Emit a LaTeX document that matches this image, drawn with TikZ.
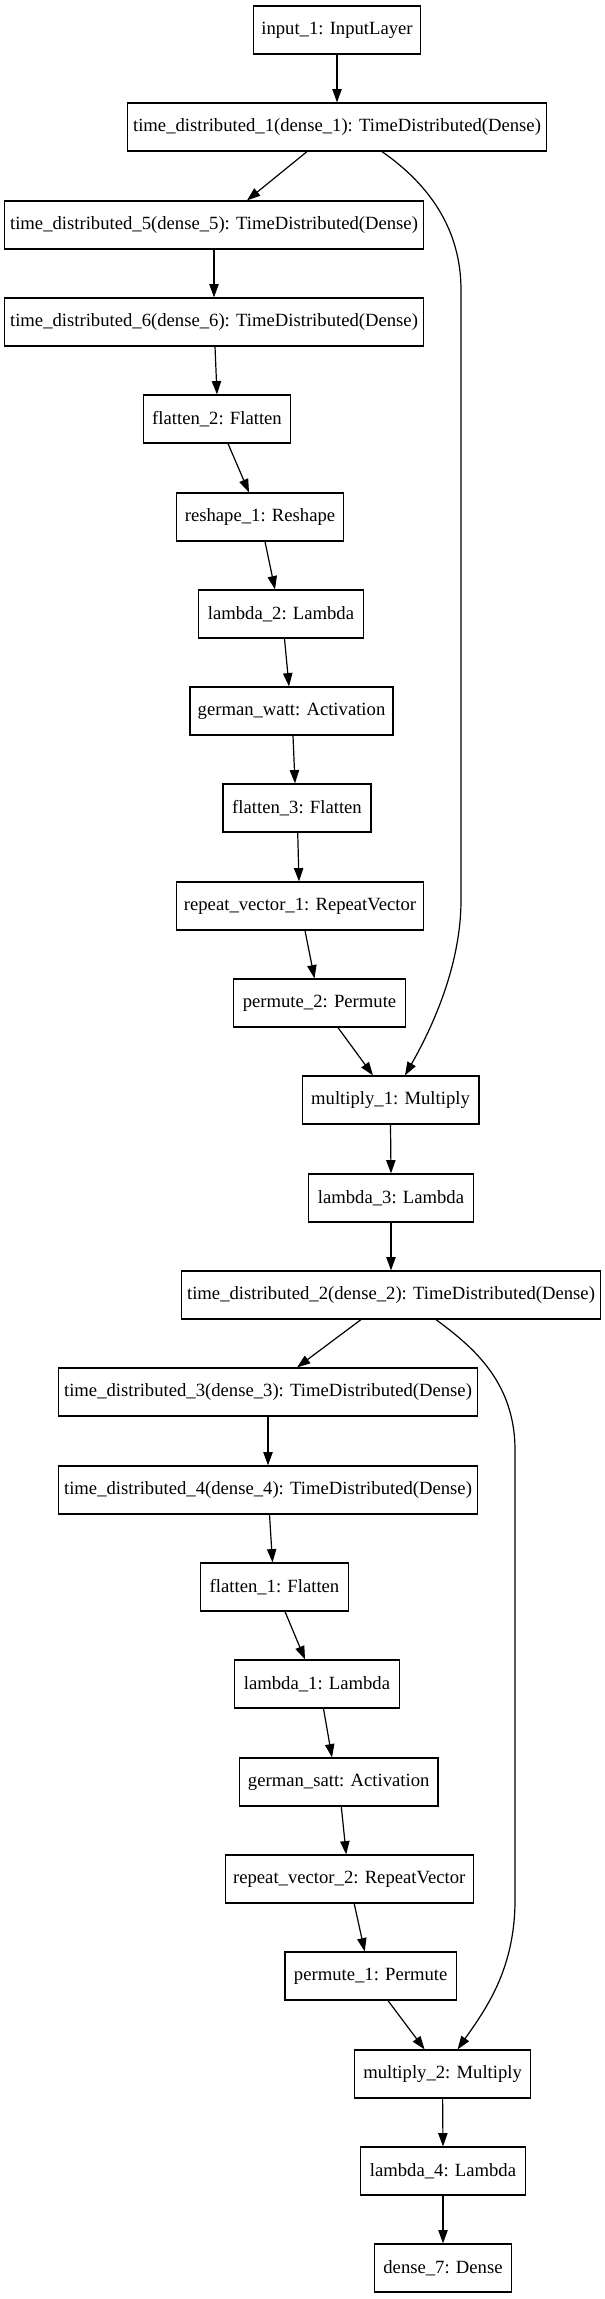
\documentclass[tikz,border=0pt]{standalone}
\usepackage{fontspec}
\setmainfont{Liberation Serif}
\usetikzlibrary{arrows.meta,calc}
\tikzset{
  layer/.style={draw=black, line width=0.9pt, rectangle, minimum height=36pt, inner sep=0pt, font=\fontsize{14}{16}\selectfont},
  edge/.style={draw=black, line width=0.9pt, -{Triangle[length=10pt,width=7pt]}}
}
\begin{document}
\begin{tikzpicture}[x=0.75pt,y=-0.75pt]
\useasboundingbox[fill=white] (0,0) rectangle (604,2299);
\node[layer, minimum width=125.3pt] (in1) at (337,30) {input\_1: InputLayer};
\node[layer, minimum width=313.9pt] (td1) at (337,127) {time\_distributed\_1(dense\_1): TimeDistributed(Dense)};
\node[layer, minimum width=314.3pt] (td5) at (214,225) {time\_distributed\_5(dense\_5): TimeDistributed(Dense)};
\node[layer, minimum width=314.3pt] (td6) at (214,322) {time\_distributed\_6(dense\_6): TimeDistributed(Dense)};
\node[layer, minimum width=110pt] (fl2) at (217,419) {flatten\_2: Flatten};
\node[layer, minimum width=125.3pt] (rs1) at (260,517) {reshape\_1: Reshape};
\node[layer, minimum width=123.4pt] (lb2) at (281,614) {lambda\_2: Lambda};
\node[layer, minimum width=152.3pt] (gw) at (291.5,711) {german\_watt: Activation};
\node[layer, minimum width=111pt] (fl3) at (297,808) {flatten\_3: Flatten};
\node[layer, minimum width=185.6pt] (rv1) at (300,906) {repeat\_vector\_1: RepeatVector};
\node[layer, minimum width=128.6pt] (pm2) at (319.5,1003) {permute\_2: Permute};
\node[layer, minimum width=132.6pt] (mu1) at (390.5,1100) {multiply\_1: Multiply};
\node[layer, minimum width=123.8pt] (lb3) at (391,1198) {lambda\_3: Lambda};
\node[layer, minimum width=314.3pt] (td2) at (391,1295) {time\_distributed\_2(dense\_2): TimeDistributed(Dense)};
\node[layer, minimum width=313.9pt] (td3) at (268,1392) {time\_distributed\_3(dense\_3): TimeDistributed(Dense)};
\node[layer, minimum width=313.9pt] (td4) at (268,1490) {time\_distributed\_4(dense\_4): TimeDistributed(Dense)};
\node[layer, minimum width=110.6pt] (fl1) at (274.5,1587) {flatten\_1: Flatten};
\node[layer, minimum width=123.8pt] (lb1) at (317,1684) {lambda\_1: Lambda};
\node[layer, minimum width=148.9pt] (gs) at (338.7,1782) {german\_satt: Activation};
\node[layer, minimum width=185.9pt] (rv2) at (349.2,1879) {repeat\_vector\_2: RepeatVector};
\node[layer, minimum width=128.6pt] (pm1) at (370.7,1976) {permute\_1: Permute};
\node[layer, minimum width=132.4pt] (mu2) at (442.6,2074) {multiply\_2: Multiply};
\node[layer, minimum width=123.4pt] (lb4) at (443,2171) {lambda\_4: Lambda};
\node[layer, minimum width=102.8pt] (dn7) at (443,2268) {dense\_7: Dense};

\draw[edge] (in1.south) -- (td1.north);
\draw[edge] ($(td1.south)+(-30,0)$) -- ($(td5.north)+(33,0)$);
\draw[edge] ($(td1.south)+(45,0)$) .. controls (430,185) and (461,230) .. (461,290)
  -- (461,900) .. controls (461,970) and (428,1035) .. ($(mu1.north)+(14.5,0)$);
\draw[edge] (td5.south) -- (td6.north);
\draw[edge] ($(td6.south)+(1,0)$) -- (fl2.north);
\draw[edge] ($(fl2.south)+(11,0)$) -- ($(rs1.north)+(-11,0)$);
\draw[edge] ($(rs1.south)+(5,0)$) -- ($(lb2.north)+(-6,0)$);
\draw[edge] ($(lb2.south)+(3.5,0)$) -- ($(gw.north)+(-2.5,0)$);
\draw[edge] ($(gw.south)+(1.5,0)$) -- ($(fl3.north)+(-2,0)$);
\draw[edge] ($(fl3.south)+(0.7,0)$) -- ($(rv1.north)+(-1,0)$);
\draw[edge] ($(rv1.south)+(5,0)$) -- ($(pm2.north)+(-5,0)$);
\draw[edge] ($(pm2.south)+(18.5,0)$) -- ($(mu1.north)+(-17.5,0)$);
\draw[edge] (mu1.south) -- (lb3.north);
\draw[edge] (lb3.south) -- (td2.north);
\draw[edge] ($(td2.south)+(-30,0)$) -- ($(td3.north)+(29,0)$);
\draw[edge] ($(td2.south)+(45,0)$) .. controls (470,1345) and (515,1380) .. (515,1450)
  -- (515,1900) .. controls (515,1970) and (485,2010) .. ($(mu2.north)+(15,0)$);
\draw[edge] (td3.south) -- (td4.north);
\draw[edge] ($(td4.south)+(1.5,0)$) -- ($(fl1.north)+(-2,0)$);
\draw[edge] ($(fl1.south)+(10.5,0)$) -- ($(lb1.north)+(-12,0)$);
\draw[edge] ($(lb1.south)+(6.5,0)$) -- ($(gs.north)+(-6.7,0)$);
\draw[edge] ($(gs.south)+(2.6,0)$) -- ($(rv2.north)+(-3,0)$);
\draw[edge] ($(rv2.south)+(5,0)$) -- ($(pm1.north)+(-6,0)$);
\draw[edge] ($(pm1.south)+(17.3,0)$) -- ($(mu2.north)+(-18,0)$);
\draw[edge] (mu2.south) -- (lb4.north);
\draw[edge] (lb4.south) -- (dn7.north);
\end{tikzpicture}
\end{document}
